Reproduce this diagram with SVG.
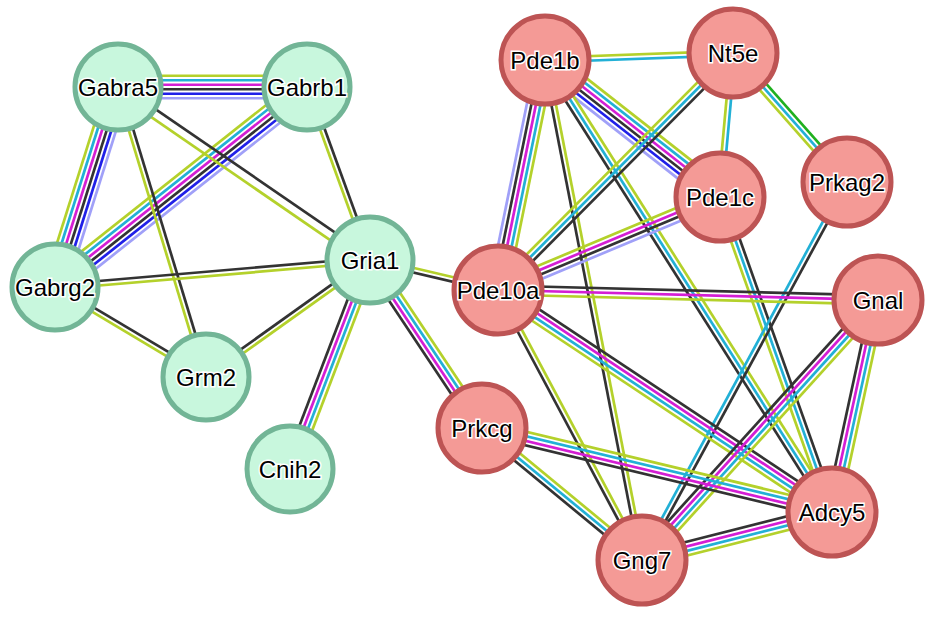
<svg xmlns="http://www.w3.org/2000/svg" width="935" height="619" viewBox="0 0 935 619">
<style>
path{fill:none;stroke-width:2.7}
.y{stroke:#b4d12b}.k{stroke:#333}.m{stroke:#d41ed4}.c{stroke:#22b0d6}.b{stroke:#2020e8}.p{stroke:#a0a0f8}.g{stroke:#1fb01f}
.gn circle{fill:#c8f7dd;stroke:#72b596;stroke-width:5}
.rd circle{fill:#f49a96;stroke:#bd5454;stroke-width:5}
text{font-family:"Liberation Sans",Arial,sans-serif;font-size:24px;text-anchor:middle;fill:#000;stroke:#fff;stroke-width:3;paint-order:stroke}
</style>
<g id="edges">
<g transform="translate(118,87) rotate(0)"><path class="y" d="M0 -11.25H189"/><path class="c" d="M0 -6.75H189"/><path class="m" d="M0 -2.25H189"/><path class="k" d="M0 2.25H189"/><path class="b" d="M0 6.75H189"/><path class="p" d="M0 11.25H189"/></g>
<g transform="translate(118,87) rotate(107.5)"><path class="y" d="M0 11.25H210"/><path class="c" d="M0 6.75H210"/><path class="m" d="M0 2.25H210"/><path class="k" d="M0 -2.25H210"/><path class="b" d="M0 -6.75H210"/><path class="p" d="M0 -11.25H210"/></g>
<g transform="translate(307,87) rotate(141.6)"><path class="y" d="M0 11.25H322"/><path class="c" d="M0 6.75H322"/><path class="m" d="M0 2.25H322"/><path class="k" d="M0 -2.25H322"/><path class="b" d="M0 -6.75H322"/><path class="p" d="M0 -11.25H322"/></g>
<g transform="translate(118,87) rotate(34.5)"><path class="k" d="M0 -3H306"/><path class="y" d="M0 6H306"/></g>
<g transform="translate(118,87) rotate(73.1)"><path class="k" d="M0 -2.25H303"/><path class="y" d="M0 2.25H303"/></g>
<g transform="translate(307,87) rotate(70)"><path class="k" d="M0 -2.25H184"/><path class="y" d="M0 2.25H184"/></g>
<g transform="translate(55,287) rotate(-4.9)"><path class="k" d="M0 -2.25H316"/><path class="y" d="M0 2.25H316"/></g>
<g transform="translate(55,287) rotate(30.8)"><path class="k" d="M0 -2.25H176"/><path class="y" d="M0 2.25H176"/></g>
<g transform="translate(206,377) rotate(-35.5)"><path class="k" d="M0 -2.25H201"/><path class="y" d="M0 2.25H201"/></g>
<g transform="translate(370,260) rotate(110.9)"><path class="y" d="M0 -6.75H224"/><path class="c" d="M0 -2.25H224"/><path class="m" d="M0 2.25H224"/><path class="k" d="M0 6.75H224"/></g>
<g transform="translate(370,260) rotate(56.3)"><path class="y" d="M0 -6.75H202"/><path class="c" d="M0 -2.25H202"/><path class="m" d="M0 2.25H202"/><path class="k" d="M0 6.75H202"/></g>
<g transform="translate(370,260) rotate(13.2)"><path class="y" d="M0 -2.25H131"/><path class="k" d="M0 2.25H131"/></g>
<g transform="translate(545,60) rotate(-2.1)"><path class="y" d="M0 -2.25H188"/><path class="c" d="M0 2.25H188"/></g>
<g transform="translate(545,60) rotate(38.1)"><path class="y" d="M0 -11.25H222"/><path class="c" d="M0 -6.75H222"/><path class="m" d="M0 -2.25H222"/><path class="k" d="M0 2.25H222"/><path class="b" d="M0 6.75H222"/><path class="p" d="M0 11.25H222"/></g>
<g transform="translate(545,60) rotate(101.5)"><path class="y" d="M0 -9H235"/><path class="c" d="M0 -4.5H235"/><path class="m" d="M0 0H235"/><path class="k" d="M0 4.5H235"/><path class="p" d="M0 9H235"/></g>
<g transform="translate(545,60) rotate(79)"><path class="y" d="M0 -2.25H509"/><path class="k" d="M0 2.25H509"/></g>
<g transform="translate(545,60) rotate(57.6)"><path class="y" d="M0 -4.5H535"/><path class="c" d="M0 0H535"/><path class="k" d="M0 4.5H535"/></g>
<g transform="translate(733,53) rotate(134.8)"><path class="y" d="M0 4.5H334"/><path class="c" d="M0 0H334"/><path class="k" d="M0 -4.5H334"/></g>
<g transform="translate(733,53) rotate(95.2)"><path class="y" d="M0 2.25H145"/><path class="c" d="M0 -2.25H145"/></g>
<g transform="translate(733,53) rotate(48.5)"><path class="y" d="M0 4.5H172"/><path class="c" d="M0 0H172"/><path class="g" d="M0 -4.5H172"/></g>
<g transform="translate(720,197) rotate(157.3)"><path class="y" d="M0 6.75H241"/><path class="m" d="M0 2.25H241"/><path class="k" d="M0 -2.25H241"/><path class="p" d="M0 -6.75H241"/></g>
<g transform="translate(720,197) rotate(70.4)"><path class="y" d="M0 4.5H334"/><path class="c" d="M0 0H334"/><path class="k" d="M0 -4.5H334"/></g>
<g transform="translate(847,182) rotate(118.5)"><path class="c" d="M0 2.25H430"/><path class="k" d="M0 -2.25H430"/></g>
<g transform="translate(498,290) rotate(1.5)"><path class="k" d="M0 -4.5H380"/><path class="m" d="M0 0H380"/><path class="y" d="M0 4.5H380"/></g>
<g transform="translate(498,290) rotate(33.6)"><path class="k" d="M0 -6.75H401"/><path class="m" d="M0 -2.25H401"/><path class="c" d="M0 2.25H401"/><path class="y" d="M0 6.75H401"/></g>
<g transform="translate(498,290) rotate(61.9)"><path class="y" d="M0 -2.25H306"/><path class="k" d="M0 2.25H306"/></g>
<g transform="translate(878,300) rotate(132.2)"><path class="y" d="M0 -6.75H351"/><path class="c" d="M0 -2.25H351"/><path class="m" d="M0 2.25H351"/><path class="k" d="M0 6.75H351"/></g>
<g transform="translate(878,300) rotate(102.2)"><path class="y" d="M0 -6.75H217"/><path class="c" d="M0 -2.25H217"/><path class="m" d="M0 2.25H217"/><path class="k" d="M0 6.75H217"/></g>
<g transform="translate(482,428) rotate(13.5)"><path class="y" d="M0 -6.75H360"/><path class="c" d="M0 -2.25H360"/><path class="m" d="M0 2.25H360"/><path class="k" d="M0 6.75H360"/></g>
<g transform="translate(482,428) rotate(39.5)"><path class="y" d="M0 -4.5H207"/><path class="c" d="M0 0H207"/><path class="k" d="M0 4.5H207"/></g>
<g transform="translate(642,560) rotate(-14.2)"><path class="k" d="M0 -6.75H196"/><path class="m" d="M0 -2.25H196"/><path class="c" d="M0 2.25H196"/><path class="y" d="M0 6.75H196"/></g>
</g>
<g id="Gabra5" class="gn"><circle cx="118" cy="87" r="43"/><text x="118" y="96">Gabra5</text></g>
<g id="Gabrb1" class="gn"><circle cx="307" cy="87" r="43"/><text x="307" y="96">Gabrb1</text></g>
<g id="Gria1" class="gn"><circle cx="370" cy="260" r="43"/><text x="370" y="269">Gria1</text></g>
<g id="Gabrg2" class="gn"><circle cx="55" cy="287" r="43"/><text x="55" y="296">Gabrg2</text></g>
<g id="Grm2" class="gn"><circle cx="206" cy="377" r="43"/><text x="206" y="386">Grm2</text></g>
<g id="Cnih2" class="gn"><circle cx="290" cy="469" r="43"/><text x="290" y="478">Cnih2</text></g>
<g id="Pde1b" class="rd"><circle cx="545" cy="60" r="44"/><text x="545" y="69">Pde1b</text></g>
<g id="Nt5e" class="rd"><circle cx="733" cy="53" r="44"/><text x="733" y="62">Nt5e</text></g>
<g id="Pde1c" class="rd"><circle cx="720" cy="197" r="44"/><text x="720" y="206">Pde1c</text></g>
<g id="Prkag2" class="rd"><circle cx="847" cy="182" r="44"/><text x="847" y="191">Prkag2</text></g>
<g id="Pde10a" class="rd"><circle cx="498" cy="290" r="44"/><text x="498" y="299">Pde10a</text></g>
<g id="Gnal" class="rd"><circle cx="878" cy="300" r="44"/><text x="878" y="309">Gnal</text></g>
<g id="Prkcg" class="rd"><circle cx="482" cy="428" r="44"/><text x="482" y="437">Prkcg</text></g>
<g id="Adcy5" class="rd"><circle cx="832" cy="512" r="44"/><text x="832" y="521">Adcy5</text></g>
<g id="Gng7" class="rd"><circle cx="642" cy="560" r="44"/><text x="642" y="569">Gng7</text></g>
</svg>
